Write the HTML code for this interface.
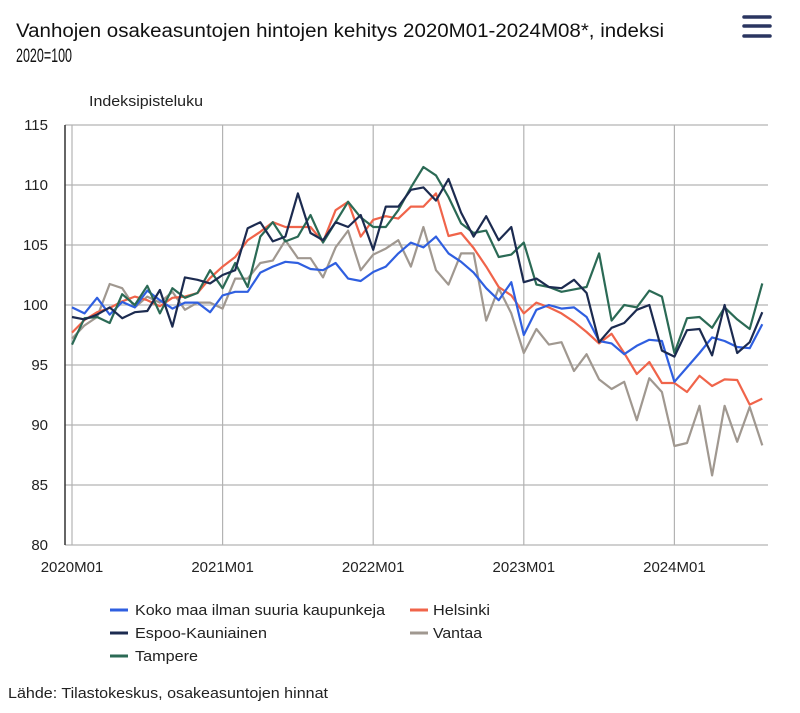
<!DOCTYPE html>
<html><head><meta charset="utf-8"><style>
html,body{margin:0;padding:0;background:#fff;}
svg{display:block;font-family:"Liberation Sans",sans-serif;}
</style></head><body>
<svg id="s" width="800" height="713" viewBox="0 0 800 713" xmlns="http://www.w3.org/2000/svg">
<text x="16" y="37" font-size="19" fill="#111" textLength="648" lengthAdjust="spacingAndGlyphs">Vanhojen osakeasuntojen hintojen kehitys 2020M01-2024M08*, indeksi</text>
<text x="16" y="62" font-size="19" fill="#111" textLength="56" lengthAdjust="spacingAndGlyphs">2020=100</text>
<g stroke="#2a3560" stroke-width="3.5" stroke-linecap="round"><line x1="744" y1="17" x2="770" y2="17"/><line x1="744" y1="26" x2="770" y2="26"/><line x1="744" y1="36" x2="770" y2="36"/></g>
<text x="89" y="106" font-size="15" fill="#222" textLength="114" lengthAdjust="spacingAndGlyphs">Indeksipisteluku</text>
<g id="grid" stroke="#b3b3b3" stroke-width="1.2"></g>
<g id="ylab" font-size="15" fill="#222" text-anchor="end"></g>
<g id="xlab" font-size="15" fill="#222" text-anchor="middle"></g>
<line x1="65" y1="125" x2="65" y2="545" stroke="#333" stroke-width="1.5"/>
<g id="lines" fill="none" stroke-width="2.2" stroke-linejoin="round"></g>
<g font-size="15" fill="#222">
<line x1="110" y1="610" x2="128" y2="610" stroke="#2f5fe0" stroke-width="3"/>
<text x="135" y="615" textLength="250" lengthAdjust="spacingAndGlyphs">Koko maa ilman suuria kaupunkeja</text>
<line x1="410" y1="610" x2="428" y2="610" stroke="#f0644a" stroke-width="3"/>
<text x="433" y="615" textLength="57" lengthAdjust="spacingAndGlyphs">Helsinki</text>
<line x1="110" y1="633" x2="128" y2="633" stroke="#1c2b50" stroke-width="3"/>
<text x="135" y="638" textLength="132" lengthAdjust="spacingAndGlyphs">Espoo-Kauniainen</text>
<line x1="410" y1="633" x2="428" y2="633" stroke="#a09890" stroke-width="3"/>
<text x="433" y="638" textLength="49" lengthAdjust="spacingAndGlyphs">Vantaa</text>
<line x1="110" y1="656" x2="128" y2="656" stroke="#2b6a55" stroke-width="3"/>
<text x="135" y="661" textLength="63" lengthAdjust="spacingAndGlyphs">Tampere</text>
<text x="8" y="698" textLength="320" lengthAdjust="spacingAndGlyphs">Lähde: Tilastokeskus, osakeasuntojen hinnat</text>
</g>
</svg>
<script>
var NS="http://www.w3.org/2000/svg";
function el(t,a,p,txt){var e=document.createElementNS(NS,t);for(var k in a)e.setAttribute(k,a[k]);if(txt)e.textContent=txt;document.getElementById(p).appendChild(e);}
function Y(v){return 125+(115-v)*12;}
function X(i){return 72+i*12.55;}
for(var v=80;v<=115;v+=5){el("line",{x1:65,x2:768,y1:Y(v),y2:Y(v)},"grid");el("text",{x:48,y:Y(v)+5},"ylab",""+v);}
var yrs=["2020M01","2021M01","2022M01","2023M01","2024M01"];
for(var j=0;j<5;j++){var x=X(j*12);el("line",{x1:x,x2:x,y1:125,y2:545},"grid");el("text",{x:x,y:572},"xlab",yrs[j]);}
var S=[
["#a09890",[97.2,98.3,99.0,101.75,101.4,99.8,100.7,100.2,101.1,99.6,100.2,100.2,99.7,102.2,102.2,103.5,103.7,105.4,103.9,103.9,102.3,104.8,106.2,102.9,104.2,104.7,105.4,103.2,106.5,102.9,101.7,104.3,104.3,98.7,101.4,99.3,96.0,98.0,96.7,96.9,94.5,95.9,93.8,93.0,93.6,90.4,93.9,92.75,88.25,88.5,91.6,85.8,91.6,88.6,91.5,88.3]],
["#f0644a",[97.7,98.75,99.4,99.75,100.3,100.7,100.4,99.9,100.6,100.7,101.0,102.25,103.2,104.0,105.4,106.1,106.9,106.5,106.5,106.5,105.25,107.9,108.6,105.7,107.1,107.4,107.2,108.2,108.2,109.3,105.75,106.0,104.75,103.2,101.5,100.8,99.3,100.2,99.8,99.3,98.6,97.75,96.8,97.6,96.0,94.25,95.25,93.5,93.5,92.75,94.1,93.25,93.8,93.75,91.7,92.2]],
["#2f5fe0",[99.8,99.3,100.6,99.2,100.25,99.8,101.2,100.4,99.7,100.2,100.2,99.4,100.8,101.1,101.1,102.7,103.2,103.6,103.5,103.0,102.9,103.5,102.2,102.0,102.75,103.2,104.3,105.2,104.8,105.7,104.3,103.6,102.7,101.4,100.4,101.9,97.5,99.6,100.0,99.7,99.8,99.0,97.0,96.8,95.9,96.6,97.1,97.0,93.6,94.8,96.0,97.3,97.0,96.5,96.4,98.4]],
["#2b6a55",[96.7,98.9,99.0,98.5,100.9,100.0,101.6,99.3,101.4,100.6,101.0,102.9,101.4,103.5,101.5,105.7,106.9,105.3,105.7,107.5,105.2,106.9,108.6,107.3,106.5,106.5,107.9,109.8,111.5,110.8,109.0,106.8,106.0,106.2,104.0,104.2,105.2,101.7,101.5,101.1,101.3,101.5,104.3,98.7,100.0,99.8,101.2,100.7,96.0,98.9,99.0,98.1,99.8,98.8,98.0,101.8]],
["#1c2b50",[99.0,98.8,99.2,99.8,98.9,99.4,99.5,101.25,98.2,102.3,102.1,101.8,102.5,102.9,106.4,106.9,105.3,105.7,109.3,106.0,105.4,106.9,106.5,107.5,104.6,108.2,108.2,109.6,109.8,108.7,110.5,107.7,105.7,107.4,105.4,106.5,101.9,102.2,101.5,101.4,102.1,101.0,96.9,98.1,98.5,99.6,100.0,96.2,95.7,97.9,98.0,95.8,100.0,96.0,96.9,99.4]]
];
S.forEach(function(s){var p=s[1].map(function(v,i){return X(i).toFixed(1)+","+Y(v).toFixed(1)}).join(" ");el("polyline",{points:p,stroke:s[0]},"lines");});
</script>
</body></html>
